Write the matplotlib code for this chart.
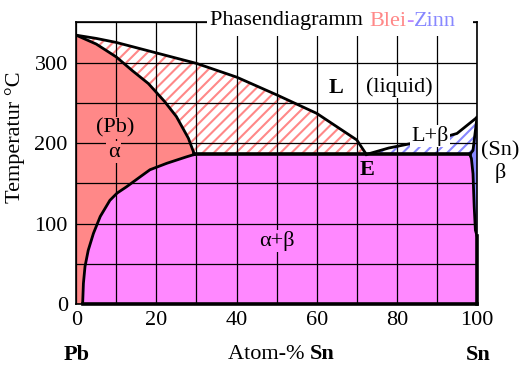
import numpy as np
import matplotlib
matplotlib.use("Agg")
import matplotlib.pyplot as plt
from matplotlib.offsetbox import TextArea, HPacker, AnchoredOffsetbox
from matplotlib.patches import Rectangle

plt.rcParams['font.family'] = ['Liberation Serif', 'DejaVu Serif']
plt.rcParams['hatch.linewidth'] = 1.5

# phase boundaries (x = atom-% Sn, t = temperature in °C)
liq_left_x = [0, 5, 10, 20, 30, 40, 50, 60, 70, 72.4]
liq_left_t = [334, 330, 325, 312, 299, 282, 260, 237, 204, 186]

solidus_a_x = [0, 5, 10, 14, 18, 22, 25, 28, 29.5]
solidus_a_t = [334, 323, 307, 290, 274, 252, 233, 206, 186]

solvus_a_x = [29.5, 27.5, 22.6, 18.4, 15.9, 12.6, 10.2, 8.4, 6.0, 4.3, 3.0, 2.2, 1.8, 1.6]
solvus_a_t = [186, 183, 175, 167, 158, 146, 138, 129, 109, 88, 67, 47, 26, 0]

liq_right_x = [72.4, 78, 83, 90, 95, 100]
liq_right_t = [186, 194, 199, 205, 212, 232]

solidus_b_x = [100, 99.0, 98.2]
solidus_b_t = [232, 191, 186]

solvus_b_x = [98.2, 98.6, 99.0, 99.3, 99.6, 100]
solvus_b_t = [186, 181, 162, 121, 92, 85]

eutectic_t = 186

c_alpha = '#FF8888'
c_ab = '#FF88FF'
c_beta = '#8888FF'
fs = 16

fig = plt.figure(figsize=(5.25, 3.79), dpi=100)
ax = fig.add_axes([76.2 / 525, 1 - 304.3 / 379, (477 - 76.2) / 525, (304.3 - 22.3) / 379])
ax.set_xlim(0, 100)
ax.set_ylim(0, 350)

# alpha + beta
ab_x = np.concatenate([solvus_a_x[::-1], solvus_b_x, [100, 100]])
ab_t = np.concatenate([solvus_a_t[::-1], solvus_b_t, [0, 0]])
ax.fill(ab_x, ab_t, color=c_ab, lw=0, zorder=1)

# alpha
a_x = np.concatenate([[0], solvus_a_x[::-1], solidus_a_x[::-1]])
a_t = np.concatenate([[0], solvus_a_t[::-1], solidus_a_t[::-1]])
ax.fill(a_x, a_t, color=c_alpha, lw=0, zorder=1)

# beta
b_x = np.concatenate([solidus_b_x, solvus_b_x])
b_t = np.concatenate([solidus_b_t, solvus_b_t])
ax.fill(b_x, b_t, color=c_beta, lw=0, zorder=1)

# L + alpha (hatched)
la_x = np.concatenate([liq_left_x, solidus_a_x[::-1]])
la_t = np.concatenate([liq_left_t, solidus_a_t[::-1]])
ax.fill(la_x, la_t, facecolor='white', edgecolor=c_alpha, hatch='///', lw=0, zorder=1)

# L + beta (hatched)
lb_x = np.concatenate([liq_right_x, solidus_b_x[1:]])
lb_t = np.concatenate([liq_right_t, solidus_b_t[1:]])
ax.fill(lb_x, lb_t, facecolor='white', edgecolor=c_beta, hatch='///', lw=0, zorder=1)

# ticks + grid
ax.set_xticks([0, 20, 40, 60, 80, 100])
ax.set_yticks([0, 100, 200, 300])
ax.set_xticks(np.arange(0, 101, 10), minor=True)
ax.set_yticks(np.arange(0, 351, 50), minor=True)
ax.grid(True, which='both', color='black', lw=0.9)
ax.set_axisbelow(False)
ax.tick_params(which='both', length=0, labelsize=fs)
ax.tick_params(axis='y', pad=6)
ax.tick_params(axis='x', pad=5)
for s in ax.spines.values():
    s.set_linewidth(1.2)
    s.set_zorder(5)

# boundary lines
lw = 2.0
ax.plot(liq_left_x, liq_left_t, color='black', lw=lw, zorder=4)
ax.plot(solidus_a_x, solidus_a_t, color='black', lw=lw, zorder=4)
ax.plot(solvus_a_x, solvus_a_t, color='black', lw=lw, zorder=4)
ax.plot(liq_right_x, liq_right_t, color='black', lw=lw, zorder=4)
ax.plot(solidus_b_x, solidus_b_t, color='black', lw=lw, zorder=4)
ax.plot(solvus_b_x, solvus_b_t, color='black', lw=lw, zorder=4)
ax.plot([solvus_a_x[0], solvus_b_x[0]], [eutectic_t, eutectic_t], color='black', lw=2.6, zorder=4)
ax.plot([solvus_a_x[-1], 100], [0, 0], color='black', lw=2.6, zorder=4, clip_on=False)
ax.plot([100, 100], [0, solvus_b_t[-1]], color='black', lw=2.6, zorder=4, clip_on=False)

# labels inside
def lab(x, t, s, bg, **kw):
    ax.text(x, t, s, ha='center', va='center', fontsize=fs, zorder=6,
            bbox=dict(facecolor=bg, edgecolor='none', pad=1), **kw)

lab(9.7, 219, '(Pb)', c_alpha)
lab(9.3, 189, 'α', c_alpha)
lab(64.8, 268, 'L', 'white', fontweight='bold')
lab(80.5, 270, '(liquid)', 'white')
lab(88.2, 209, 'L+β', 'white')
lab(50, 78.5, 'α+β', c_ab)
ax.text(72.5, 166.6, 'E', ha='center', va='center', fontsize=fs, fontweight='bold', zorder=6)
ax.text(105.9, 191, '(Sn)', ha='center', va='center', fontsize=fs, clip_on=False)
ax.text(105.7, 162.5, 'β', ha='center', va='center', fontsize=fs, clip_on=False)

# title box covering top border
fig.add_artist(Rectangle((207 / 525, 1 - 36 / 379), (473 - 207) / 525, 31 / 379,
                         transform=fig.transFigure, facecolor='white', edgecolor='none', zorder=10))
parts = [TextArea('Phasendiagramm ', textprops=dict(color='black', fontsize=fs)),
         TextArea('Blei', textprops=dict(color=c_alpha, fontsize=fs)),
         TextArea('-', textprops=dict(color='#C088FF', fontsize=fs)),
         TextArea('Zinn', textprops=dict(color=c_beta, fontsize=fs))]
title = AnchoredOffsetbox(loc='center', child=HPacker(children=parts, align='baseline', pad=0, sep=0),
                          frameon=False, pad=0, borderpad=0,
                          bbox_to_anchor=(333 / 525, 1 - 21 / 379), bbox_transform=fig.transFigure)
title.set_zorder(11)
fig.add_artist(title)

# axis labels
fig.text(15 / 525, 1 - 137 / 379, 'Temperatur °C', rotation=90, ha='center', va='center', fontsize=fs)
base = 1 - 360 / 379
fig.text(77 / 525, base, 'Pb', ha='center', va='baseline', fontsize=fs, fontweight='bold')
fig.text(478 / 525, base, 'Sn', ha='center', va='baseline', fontsize=fs, fontweight='bold')
xparts = [TextArea('Atom-% ', textprops=dict(fontsize=fs)),
          TextArea('Sn', textprops=dict(fontsize=fs, fontweight='bold'))]
xlab = AnchoredOffsetbox(loc='center', child=HPacker(children=xparts, align='baseline', pad=0, sep=0),
                         frameon=False, pad=0, borderpad=0,
                         bbox_to_anchor=(281.5 / 525, 1 - 354 / 379), bbox_transform=fig.transFigure)
fig.add_artist(xlab)

fig.savefig('out.png', dpi=100)
